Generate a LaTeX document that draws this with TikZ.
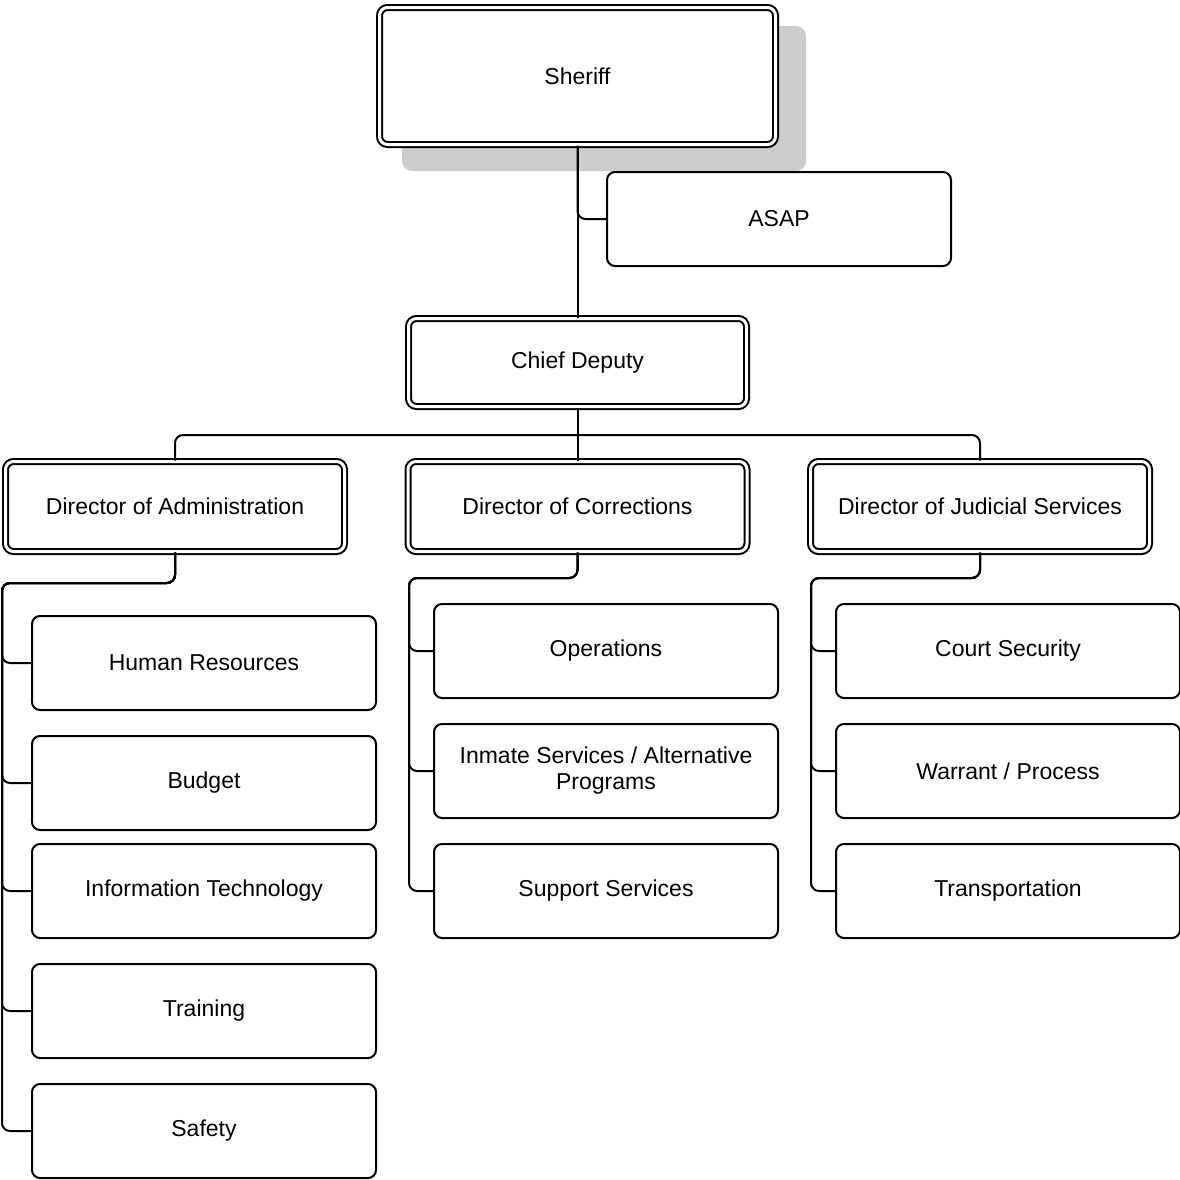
\documentclass[tikz,border=0pt]{standalone}
\usepackage{fontspec}
\setmainfont{Liberation Sans}

\begin{document}
\begin{tikzpicture}[x=0.5pt,y=-0.5pt,
		box/.style={draw,line width=1pt,rounded corners=4pt,fill=white,inner sep=2pt,align=center,
			minimum width=172pt,minimum height=47pt,font=\fontsize{11.5}{13}\selectfont},
		headbox/.style={box,double,double distance=1.5pt},
		link/.style={line width=1pt,rounded corners=4pt}]
	\useasboundingbox (0,0) rectangle (1180,1180);

	\fill[black!20,rounded corners=5pt] (402,26) rectangle (806,171);

	\node[headbox,minimum width=198pt,minimum height=68.5pt]	(sheriff)	at (577.5,76)	{Sheriff};
	\node[box]													(asap)		at (779,219)	{ASAP};
	\node[headbox,minimum width=169pt,minimum height=44pt]		(chief)		at (577.5,362.5)	{Chief Deputy};

	\node[headbox,minimum width=169.5pt,minimum height=45pt]	(admin)		at (175,506.5)	{Director of Administration};
	\node[headbox,minimum width=169.5pt,minimum height=45pt]	(corr)		at (577.5,506.5)	{Director of Corrections};
	\node[headbox,minimum width=169.5pt,minimum height=45pt]	(judicial)	at (980,506.5)	{Director of Judicial Services};

	\node[box]	(hr)		at (204,663)	{Human Resources};
	\node[box]	(budget)	at (204,783)	{Budget};
	\node[box]	(it)		at (204,891)	{Information Technology};
	\node[box]	(training)	at (204,1011)	{Training};
	\node[box]	(safety)	at (204,1131)	{Safety};

	\node[box]	(ops)		at (606,651)	{Operations};
	\node[box]	(inmate)	at (606,771)	{Inmate Services / Alternative\\Programs};
	\node[box]	(support)	at (606,891)	{Support Services};

	\node[box]	(court)		at (1008,651)	{Court Security};
	\node[box]	(warrant)	at (1008,771)	{Warrant / Process};
	\node[box]	(transport)	at (1008,891)	{Transportation};

	\coordinate (bus)		at (577.5,435);
	\coordinate (adminbar)	at (2,583);
	\coordinate (corrbar)	at (409,578);
	\coordinate (judbar)	at (811,578);

	\draw[link] (sheriff.south) -- (chief.north);
	\draw[link] (sheriff.south) |- (asap.west);
	\draw[link] (chief.south) -- (corr.north);
	\draw[link] (admin.north) |- (bus) -| (judicial.north);

	\foreach \c in {hr,budget,it,training,safety}
		\draw[link] (admin.south) |- (adminbar) |- (\c.west);
	\foreach \c in {ops,inmate,support}
		\draw[link] (corr.south) |- (corrbar) |- (\c.west);
	\foreach \c in {court,warrant,transport}
		\draw[link] (judicial.south) |- (judbar) |- (\c.west);
\end{tikzpicture}
\end{document}
